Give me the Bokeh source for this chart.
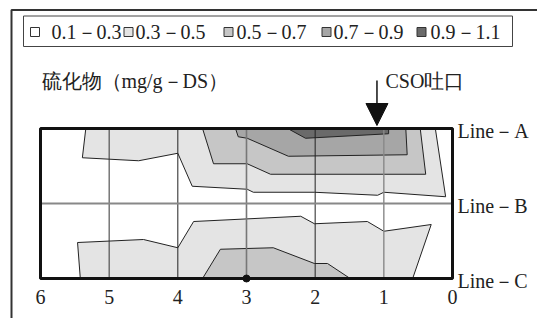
from bokeh.plotting import figure
from bokeh.models import Range1d, Arrow, NormalHead
from bokeh.core.properties import value
from bokeh.embed import file_html
from bokeh.resources import INLINE

# ---------------- data ----------------
# x: distance from CSO outfall side (0..6), y: Line-C = 0, Line-B = 1, Line-A = 2
levels = ["0.1－0.3", "0.3－0.5", "0.5－0.7", "0.7－0.9", "0.9－1.1"]
level_colors = ["#ffffff", "#e4e4e4", "#c6c6c6", "#a6a6a6", "#6a6a6a"]

# contour bands near Line-A (each closes along Line-A)
a_03_x = [5.34, 5.39, 4.57, 4.00, 3.79, 2.99, 2.90, 2.01, 1.09, 1.00, 0.10, 0.25]
a_03_y = [2.00, 1.61, 1.57, 1.67, 1.23, 1.19, 1.15, 1.15, 1.11, 1.15, 1.09, 2.00]
a_05_x = [3.64, 3.48, 2.99, 2.65, 0.39, 0.47]
a_05_y = [2.00, 1.53, 1.53, 1.39, 1.39, 2.00]
a_07_x = [3.16, 3.12, 2.99, 2.39, 0.66, 0.68]
a_07_y = [2.00, 1.89, 1.87, 1.63, 1.65, 2.00]
a_09_x = [2.40, 2.14, 0.93, 0.93]
a_09_y = [2.00, 1.87, 1.93, 2.00]

# contour bands near Line-C (each closes along Line-C)
c_03_x = [5.42, 5.46, 4.50, 4.00, 3.77, 2.21, 2.01, 1.24, 1.00, 0.31, 0.58]
c_03_y = [0.00, 0.48, 0.52, 0.41, 0.76, 0.83, 0.73, 0.76, 0.63, 0.72, 0.00]
c_05_x = [3.64, 3.38, 2.61, 2.01, 1.82, 1.49]
c_05_y = [0.00, 0.39, 0.41, 0.20, 0.20, 0.00]

x_ticks = [6, 5, 4, 3, 2, 1, 0]
x_tick_labels = ["6", "5", "4", "3", "2", "1", "0"]
line_levels = [2, 1, 0]
line_labels = ["Line－A", "Line－B", "Line－C"]
grid_x = [5, 4, 3, 2, 1]
grid_colors = ["#333333", "#222222", "#777777", "#222222", "#888888"]
grid_widths = [1, 1, 1.6, 1, 1.4]
cso_x = 1.1
sample_x = [3]
sample_y = [0]

# ---------------- layout (page pixels -> data) ----------------
W, H = 537, 318
X0, XS = 452.0, 68.67   # page px of x = 0, px per unit
Y0, YS = 278.0, 75.0    # page px of y = 0, px per unit


def fx(px):
    return (X0 - px) / XS


def fy(py):
    return (Y0 - py) / YS


p = figure(width=W, height=H, output_backend="svg", toolbar_location=None,
           x_range=Range1d(fx(0), fx(W)), y_range=Range1d(fy(H), fy(0)),
           min_border=0, outline_line_color=None)
p.xaxis.visible = False
p.yaxis.visible = False
p.grid.visible = False
p.background_fill_color = "white"
p.border_fill_color = "white"

SERIF = "Liberation Serif"
FS = "20px"
TXT = dict(text_font=value(SERIF), text_font_size=FS, text_color="#222222",
           text_baseline="middle")

# outer frame (left & top edges visible)
p.line(x=[fx(11), fx(11), fx(560)], y=[fy(340), fy(9.5), fy(9.5)],
       line_color="#333333", line_width=2)

# legend box
p.quad(left=fx(23), right=fx(512), top=fy(15.5), bottom=fy(46), fill_color=None,
       line_color="#444444", line_width=1)
sq_px = [34.5, 128, 228, 326, 421]
txt_px = [51, 135, 236, 333, 430]
p.scatter(x=[fx(v) for v in sq_px], y=[fy(31.5)] * 5, marker="square", size=9,
          fill_color=level_colors, line_color="#333333", line_width=1)
p.text(x=[fx(v) for v in txt_px], y=[fy(31)] * 5, text=levels, text_align="left", **TXT)

# title and CSO arrow
p.text(x=[fx(41)], y=[fy(80)], text=["硫化物（mg/g－DS）"], text_align="left", **TXT)
p.text(x=[fx(385)], y=[fy(80)], text=["CSO吐口"], text_align="left", **TXT)
p.add_layout(Arrow(end=NormalHead(size=22, fill_color="#111111", line_color="#111111"),
                   x_start=cso_x, y_start=fy(80), x_end=cso_x, y_end=fy(125),
                   line_color="#111111", line_width=1.5))

# contour bands
outline = dict(line_color="#222222", line_width=1)
p.patch(a_03_x, a_03_y, fill_color=level_colors[1], **outline)
p.patch(a_05_x, a_05_y, fill_color=level_colors[2], **outline)
p.patch(a_07_x, a_07_y, fill_color=level_colors[3], **outline)
p.patch(a_09_x, a_09_y, fill_color=level_colors[4], **outline)
p.patch(c_03_x, c_03_y, fill_color=level_colors[1], **outline)
p.patch(c_05_x, c_05_y, fill_color=level_colors[2], **outline)

# grid lines
p.segment(x0=grid_x, y0=[0] * 5, x1=grid_x, y1=[2] * 5, line_color=grid_colors,
          line_width=grid_widths)
p.segment(x0=[6], y0=[1], x1=[0], y1=[1], line_color="#888888", line_width=2)

p.scatter(x=sample_x, y=sample_y, size=7, color="#111111")

# plot frame
p.quad(left=6, right=0, top=2, bottom=0, fill_color=None, line_color="#111111", line_width=3)

# tick labels
p.text(x=x_ticks, y=[fy(296)] * 7, text=x_tick_labels, text_align="center", **TXT)
p.text(x=[fx(457)] * 3, y=line_levels, y_offset=2, text=line_labels, text_align="left", **TXT)

open("out.html", "w").write(file_html(p, INLINE))
